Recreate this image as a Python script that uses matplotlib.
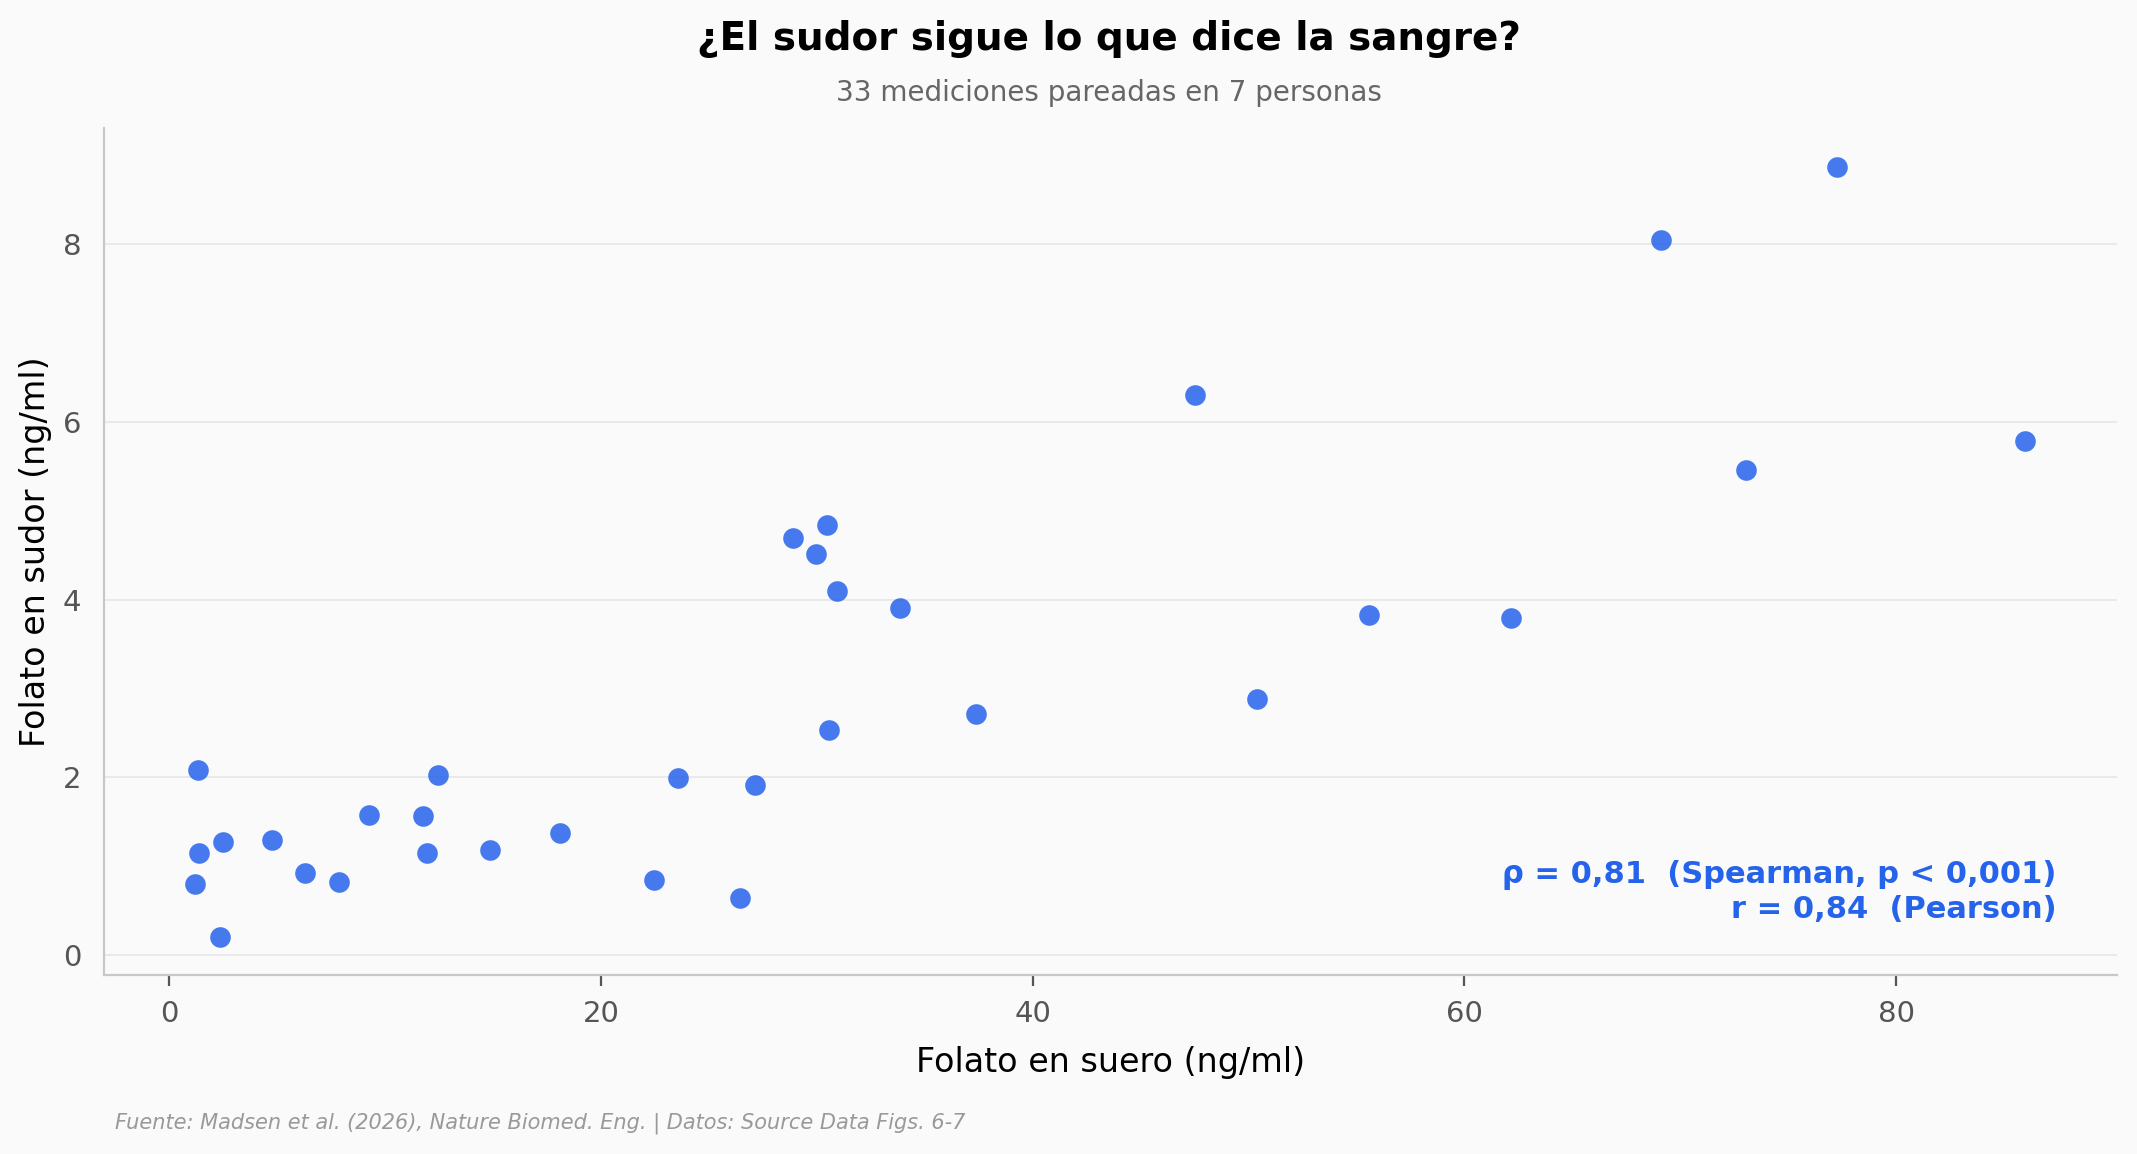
import matplotlib.pyplot as plt

BG = '#fafafa'
DOT_COLOR = '#2563eb'

# Folato en suero (ng/ml) vs folato en sudor (ng/ml)
serum = [1.34, 1.38, 1.20, 2.35, 2.50, 4.77, 6.27, 7.86, 9.25, 11.74, 11.93,
         12.45, 14.88, 18.12, 22.46, 23.57, 26.44, 27.12, 28.90, 29.96, 30.47,
         30.56, 30.93, 33.84, 37.36, 47.54, 50.38, 55.56, 62.18, 69.13, 73.04,
         77.27, 85.98]
sweat = [2.08, 1.15, 0.80, 0.21, 1.27, 1.30, 0.92, 0.82, 1.58, 1.57, 1.15,
         2.03, 1.18, 1.38, 0.85, 1.99, 0.65, 1.91, 4.69, 4.51, 4.84,
         2.53, 4.10, 3.91, 2.71, 6.30, 2.88, 3.83, 3.79, 8.05, 5.46,
         8.87, 5.78]

fig = plt.figure(figsize=(10.685, 5.77), dpi=200, facecolor=BG)
ax = fig.add_axes([0.0485, 0.155, 0.942, 0.734], facecolor=BG)

ax.scatter(serum, sweat, s=55, color=DOT_COLOR, alpha=0.85, linewidths=0, zorder=3)

ax.set_yticks([0, 2, 4, 6, 8])
ax.set_xticks([0, 20, 40, 60, 80])
ax.grid(axis='y', color='#e6e6e6', linewidth=0.6, zorder=0)
ax.grid(axis='x', visible=False)

for side in ['top', 'right']:
    ax.spines[side].set_visible(False)
for side in ['left', 'bottom']:
    ax.spines[side].set_color('#c8c8c8')
    ax.spines[side].set_linewidth(0.8)

ax.tick_params(axis='x', length=4, width=0.8, color='#555555', labelcolor='#555555',
               labelsize=10.5, pad=5)
ax.tick_params(axis='y', length=0, labelcolor='#555555', labelsize=10.5, pad=8)

ax.set_xlabel('Folato en suero (ng/ml)', fontsize=12, labelpad=6.5)
ax.set_ylabel('Folato en sudor (ng/ml)', fontsize=12, labelpad=4)

ax.text(0.97, 0.06, 'ρ = 0,81  (Spearman, p < 0,001)\nr = 0,84  (Pearson)',
        transform=ax.transAxes, ha='right', va='bottom', fontsize=11,
        fontweight='bold', color=DOT_COLOR, linespacing=1.25)

fig.text(0.519, 0.966, '¿El sudor sigue lo que dice la sangre?', ha='center', va='center',
         fontsize=14, fontweight='bold')
fig.text(0.519, 0.919, '33 mediciones pareadas en 7 personas', ha='center', va='center',
         fontsize=10, color='#666666')
fig.text(0.054, 0.027, 'Fuente: Madsen et al. (2026), Nature Biomed. Eng. | Datos: Source Data Figs. 6-7',
         ha='left', va='center', fontsize=7.5, style='italic', color='#999999')

fig.savefig('out.png', dpi=200, facecolor=BG)
